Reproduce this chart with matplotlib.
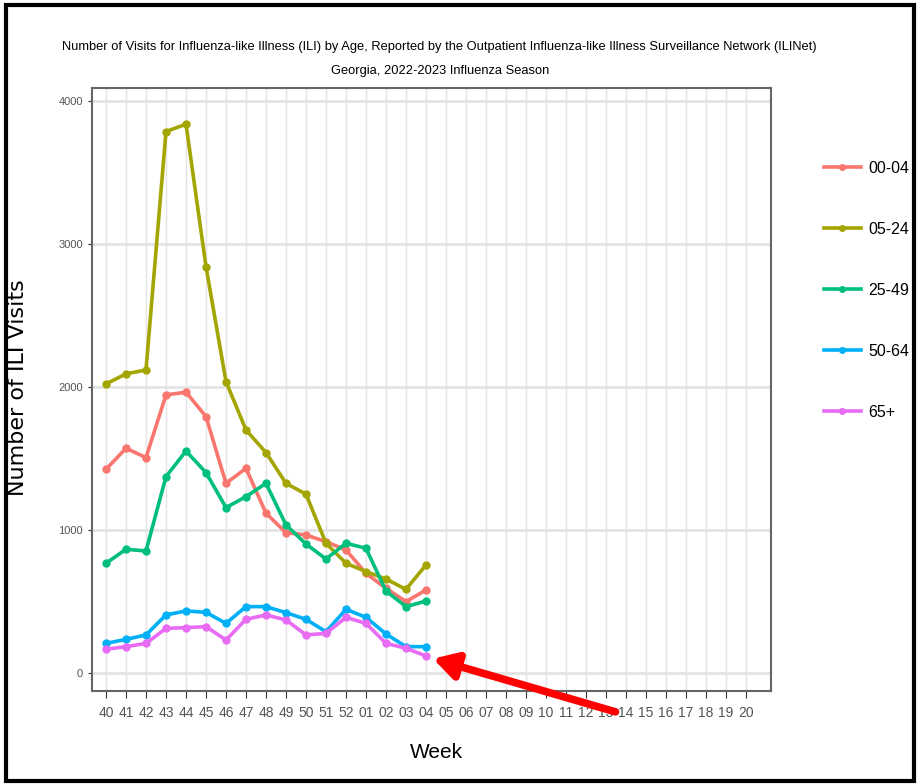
import matplotlib
matplotlib.use("Agg")
import matplotlib.pyplot as plt
from matplotlib.lines import Line2D
from matplotlib.patches import Rectangle

# week labels over the season axis
weeks = ['40', '41', '42', '43', '44', '45', '46', '47', '48', '49', '50', '51', '52',
         '01', '02', '03', '04', '05', '06', '07', '08', '09', '10', '11', '12', '13',
         '14', '15', '16', '17', '18', '19', '20']

age_groups = ['00-04', '05-24', '25-49', '50-64', '65+']

age_00_04 = [1424, 1571, 1506, 1944, 1963, 1793, 1326, 1431, 1117, 981, 965, 918, 860, 697, 592, 499, 580]
age_05_24 = [2021, 2091, 2119, 3785, 3837, 2841, 2037, 1699, 1541, 1326, 1250, 907, 767, 709, 657, 585, 755]
age_25_49 = [767, 865, 853, 1373, 1552, 1401, 1156, 1233, 1326, 1035, 902, 797, 907, 872, 573, 464, 503]
age_50_64 = [207, 235, 266, 406, 434, 424, 347, 464, 464, 422, 375, 289, 445, 389, 273, 184, 184]
age_65up = [166, 184, 207, 312, 317, 324, 231, 375, 406, 371, 266, 277, 389, 347, 207, 173, 119]

series = [age_00_04, age_05_24, age_25_49, age_50_64, age_65up]
colors = ['#F8766D', '#A3A500', '#00BF7D', '#00B0F6', '#E76BF3']

narrow = ['Liberation Sans', 'DejaVu Sans']

fig = plt.figure(figsize=(9.2, 7.84), dpi=100)
ax = fig.add_axes([0.1, 0.1186, 0.738, 0.7694])

for vals, col, lab in zip(series, colors, age_groups):
    ax.plot(range(len(vals)), vals, color=col, lw=2.6, marker='o', ms=5, label=lab)

ax.set_xlim(-0.7, 33.25)
ax.set_ylim(-126, 4091)
ax.set_xticks(range(len(weeks)))
ax.set_xticklabels(weeks, fontsize=10, color='#555555', family=narrow)
ax.set_yticks([0, 1000, 2000, 3000, 4000])
ax.set_yticklabels(['0', '1000', '2000', '3000', '4000'], fontsize=8, color='#555555', family=narrow)
ax.tick_params(axis='x', length=5, color='#333333', pad=6)
ax.tick_params(axis='y', length=3, color='#333333')
ax.grid(True, axis='x', color='#e4e4e4', lw=1)
ax.grid(True, axis='y', color='#e4e4e4', lw=2)
ax.set_axisbelow(True)
for s in ax.spines.values():
    s.set_color('#666666')
    s.set_linewidth(1.5)

ax.set_xlabel('Week', fontsize=15, family=narrow)
ax.xaxis.set_label_coords(0.508, -0.087)
fig.text(0.02, 0.506, 'Number of ILI Visits', rotation=90, fontsize=16, va='center', ha='center')

fig.text(0.478, 0.94, 'Number of Visits for Influenza-like Illness (ILI) by Age, Reported by the Outpatient Influenza-like Illness Surveillance Network (ILINet)',
         ha='center', va='center', fontsize=9.3, family=narrow)
fig.text(0.478, 0.909, 'Georgia, 2022-2023 Influenza Season', ha='center', va='center', fontsize=9.3,
         family=narrow)

# legend
handles = [Line2D([0], [0], color=c, lw=2.6, marker='o', ms=4) for c in colors]
leg = fig.legend(handles, age_groups, loc='upper left', bbox_to_anchor=(0.88, 0.813), frameon=False,
                 labelspacing=2.88, handlelength=2.3, handletextpad=0.5,
                 prop={'family': narrow, 'size': 11.5})

# red arrow pointing at the latest week
ax.annotate('', xy=(16.35, 100), xycoords='data', xytext=(0.669, 0.092), textcoords='figure fraction',
            arrowprops=dict(arrowstyle='-|>,head_length=1.4,head_width=0.8', color='#ff0000', lw=5.5,
                            shrinkA=0, shrinkB=0), annotation_clip=False)

# black frame around the whole picture
fig.patches.append(Rectangle((0.007, 0.004), 0.987, 0.99, transform=fig.transFigure, fill=False,
                             edgecolor='black', lw=3))

fig.savefig('out.png', dpi=100)
